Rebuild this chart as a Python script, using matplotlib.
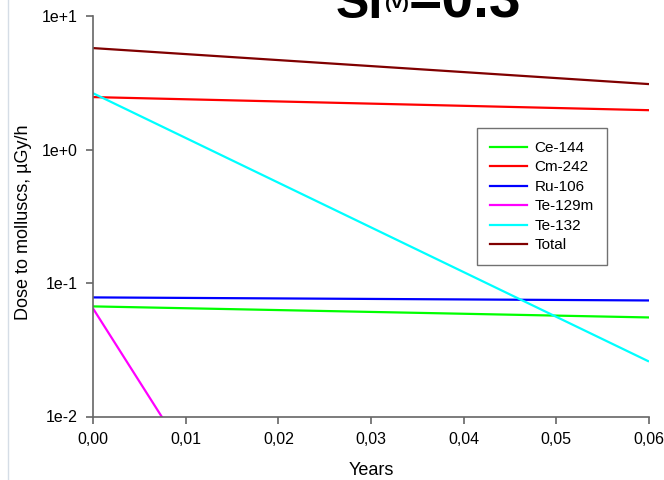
import matplotlib
matplotlib.use("Agg")
import matplotlib.pyplot as plt
from matplotlib.ticker import FixedLocator, FuncFormatter
from matplotlib.lines import Line2D

plt.rcParams['font.family'] = ['Liberation Sans', 'DejaVu Sans']

# Годы и дозы (начало и конец интервала)
years = [0.0, 0.06]
ce144 = [0.0668, 0.0552]
cm242 = [2.47, 1.97]
ru106 = [0.078, 0.074]
te132 = [2.64, 0.0258]
total = [5.75, 3.09]
# Te-129m быстро уходит ниже оси
te129m_years = [0.0, 0.01]
te129m = [0.0645, 0.0052]

names = ['Ce-144', 'Cm-242', 'Ru-106', 'Te-129m', 'Te-132', 'Total']
colors = ['#00ff00', '#ff0000', '#0000ff', '#ff00ff', '#00ffff', '#800000']

yticks = [0.01, 0.1, 1, 10]
ytick_labels = ['1e-2', '1e-1', '1e+0', '1e+1']
xticks = [0.0, 0.01, 0.02, 0.03, 0.04, 0.05, 0.06]

W, H = 664, 480
fig = plt.figure(figsize=(W / 100, H / 100), dpi=100)
x0, x1, ytop, ybot = 93, 649, 16, 416.5
ax = fig.add_axes([x0 / W, 1 - ybot / H, (x1 - x0) / W, (ybot - ytop) / H])

series = [(years, ce144), (years, cm242), (years, ru106),
          (te129m_years, te129m), (years, te132), (years, total)]
for (x, y), c in zip(series, colors):
    ax.plot(x, y, color=c, lw=1.6, solid_capstyle='butt')

ax.set_yscale('log')
ax.set_ylim(0.01, 10)
ax.set_xlim(0, 0.06)
ax.yaxis.set_major_locator(FixedLocator(yticks))
ax.yaxis.set_minor_locator(FixedLocator([]))
ax.set_yticklabels(ytick_labels)
ax.xaxis.set_major_locator(FixedLocator(xticks))
ax.xaxis.set_major_formatter(FuncFormatter(lambda v, p: f"{v:.2f}".replace('.', ',')))

for s in ['top', 'right']:
    ax.spines[s].set_visible(False)
for s in ['left', 'bottom']:
    ax.spines[s].set_color('#666666')
    ax.spines[s].set_linewidth(1.2)
ax.tick_params(axis='both', direction='out', length=5, width=1.2, color='#666666',
               labelsize=11.5, pad=6)

ax.set_xlabel('Years', fontsize=13)
ax.xaxis.set_label_coords(0.5, (ybot - 462) / (ybot - ytop))
ax.set_ylabel('Dose to molluscs, µGy/h', fontsize=13)
ax.yaxis.set_label_coords((32 - x0) / (x1 - x0), (ybot - 222) / (ybot - ytop))

handles = [Line2D([0], [0], color=c, lw=1.6) for c in colors]
leg = ax.legend(handles, names, loc='upper left', bbox_to_anchor=(477 / W, 1 - 128 / H),
                bbox_transform=fig.transFigure, fontsize=11, frameon=True, fancybox=False,
                handlelength=2.4, handletextpad=0.5, labelspacing=0.36, borderpad=0.85,
                borderaxespad=0)
leg.get_frame().set_edgecolor('#4d4d4d')
leg.get_frame().set_linewidth(1.0)

# Заголовок, обрезанный сверху
fig.text(336 / W, 1 - 18 / H, 'SI', fontsize=36, fontweight='bold', va='baseline', ha='left')
fig.text(385 / W, 1 - 8 / H, '(v)', fontsize=14, fontweight='bold', va='baseline', ha='left')
fig.text(409 / W, 1 - 18 / H, '=0.3', fontsize=41, fontweight='bold', va='baseline', ha='left')

# Светлая вертикальная линия слева
fig.add_artist(Line2D([8 / W, 8 / W], [0, 1], color='#d5dde6', lw=1, transform=fig.transFigure))

fig.savefig('out.png', dpi=100)
